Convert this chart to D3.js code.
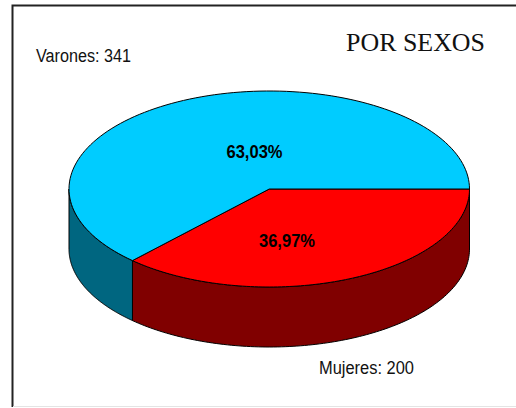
<!DOCTYPE html>
<html>
<head>
<meta charset="utf-8">
<script src="https://cdn.jsdelivr.net/npm/d3@7"></script>
<style>
    html, body { margin: 0; padding: 0; background: #fff; }
    svg { display: block; }
</style>
</head>
<body>
<script>
const title = "POR SEXOS";
const categories = ["Mujeres", "Varones"];
const values = [200, 341];
const topColors = ["#ff0000", "#00ccff"];
const sideColors = ["#800000", "#006680"];

const width = 516, height = 408;
const depth = 60;

const svg = d3.select("body").append("svg")
    .attr("width", width)
    .attr("height", height);

// outer frame: top and left are dark, bottom is only a faint line
svg.append("path")
    .attr("d", "M12.5,407V5.5H516")
    .attr("fill", "none")
    .attr("stroke", "#222")
    .attr("stroke-width", 2);
svg.append("line")
    .attr("x1", 13).attr("x2", 516)
    .attr("y1", 406.5).attr("y2", 406.5)
    .attr("stroke", "#e4e4e4");

// unit circle to the flattened ellipse of the pie top
const x = d3.scaleLinear().domain([-1, 1]).range([69, 469.5]);
const y = d3.scaleLinear().domain([-1, 1]).range([91, 287]);

// starts at 3 o'clock and runs clockwise, angles converted for cos/sin below
const pie = d3.pie().sort(null).startAngle(Math.PI / 2).endAngle(Math.PI * 2.5);
const slices = pie(values).map(d => ({
    ...d,
    a0: d.startAngle - Math.PI / 2,
    a1: d.endAngle - Math.PI / 2
}));

const line = d3.line();
const steps = (a0, a1) => d3.range(0, 121).map(i => a0 + (a1 - a0) * i / 120);
const rim = (a, dy) => [x(Math.cos(a)), y(Math.sin(a)) + dy];

// side walls, only the front half of the rim is visible
slices.forEach((d, i) => {
    const a0 = Math.max(d.a0, 0), a1 = Math.min(d.a1, Math.PI);
    if (a1 <= a0) return;
    const upper = steps(a0, a1).map(a => rim(a, 0));
    const lower = steps(a1, a0).map(a => rim(a, depth));
    svg.append("path")
        .attr("d", line(upper.concat(lower)) + "Z")
        .attr("fill", sideColors[i])
        .attr("stroke", "#000")
        .attr("stroke-width", 1);
});

// top faces
slices.forEach((d, i) => {
    const pts = [[x(0), y(0)]].concat(steps(d.a0, d.a1).map(a => rim(a, 0)));
    svg.append("path")
        .attr("d", line(pts) + "Z")
        .attr("fill", topColors[i])
        .attr("stroke", "#000")
        .attr("stroke-width", 1)
        .attr("stroke-linejoin", "round");
});

const total = d3.sum(values);
const pct = v => d3.format(".2f")(v / total * 100).replace(".", ",") + "%";

// percent labels
[[287, 247], [254.5, 158]].forEach((p, i) => {
    svg.append("text")
        .attr("x", p[0]).attr("y", p[1])
        .attr("text-anchor", "middle")
        .attr("font-family", "Liberation Sans")
        .attr("font-size", 18.5)
        .attr("font-weight", "bold")
        .attr("textLength", 56)
        .attr("lengthAdjust", "spacingAndGlyphs")
        .text(pct(values[i]));
});

// category labels
[[319, 374], [36, 62]].forEach((p, i) => {
    svg.append("text")
        .attr("x", p[0]).attr("y", p[1])
        .attr("font-family", "Liberation Sans")
        .attr("font-size", 18)
        .attr("fill", "#111")
        .attr("textLength", 95)
        .attr("lengthAdjust", "spacingAndGlyphs")
        .text(categories[i] + ": " + values[i]);
});

svg.append("text")
    .attr("x", 346).attr("y", 51)
    .attr("font-family", "Liberation Serif")
    .attr("font-size", 26)
    .attr("fill", "#111")
    .attr("textLength", 139)
    .attr("lengthAdjust", "spacingAndGlyphs")
    .text(title);
</script>
</body>
</html>
